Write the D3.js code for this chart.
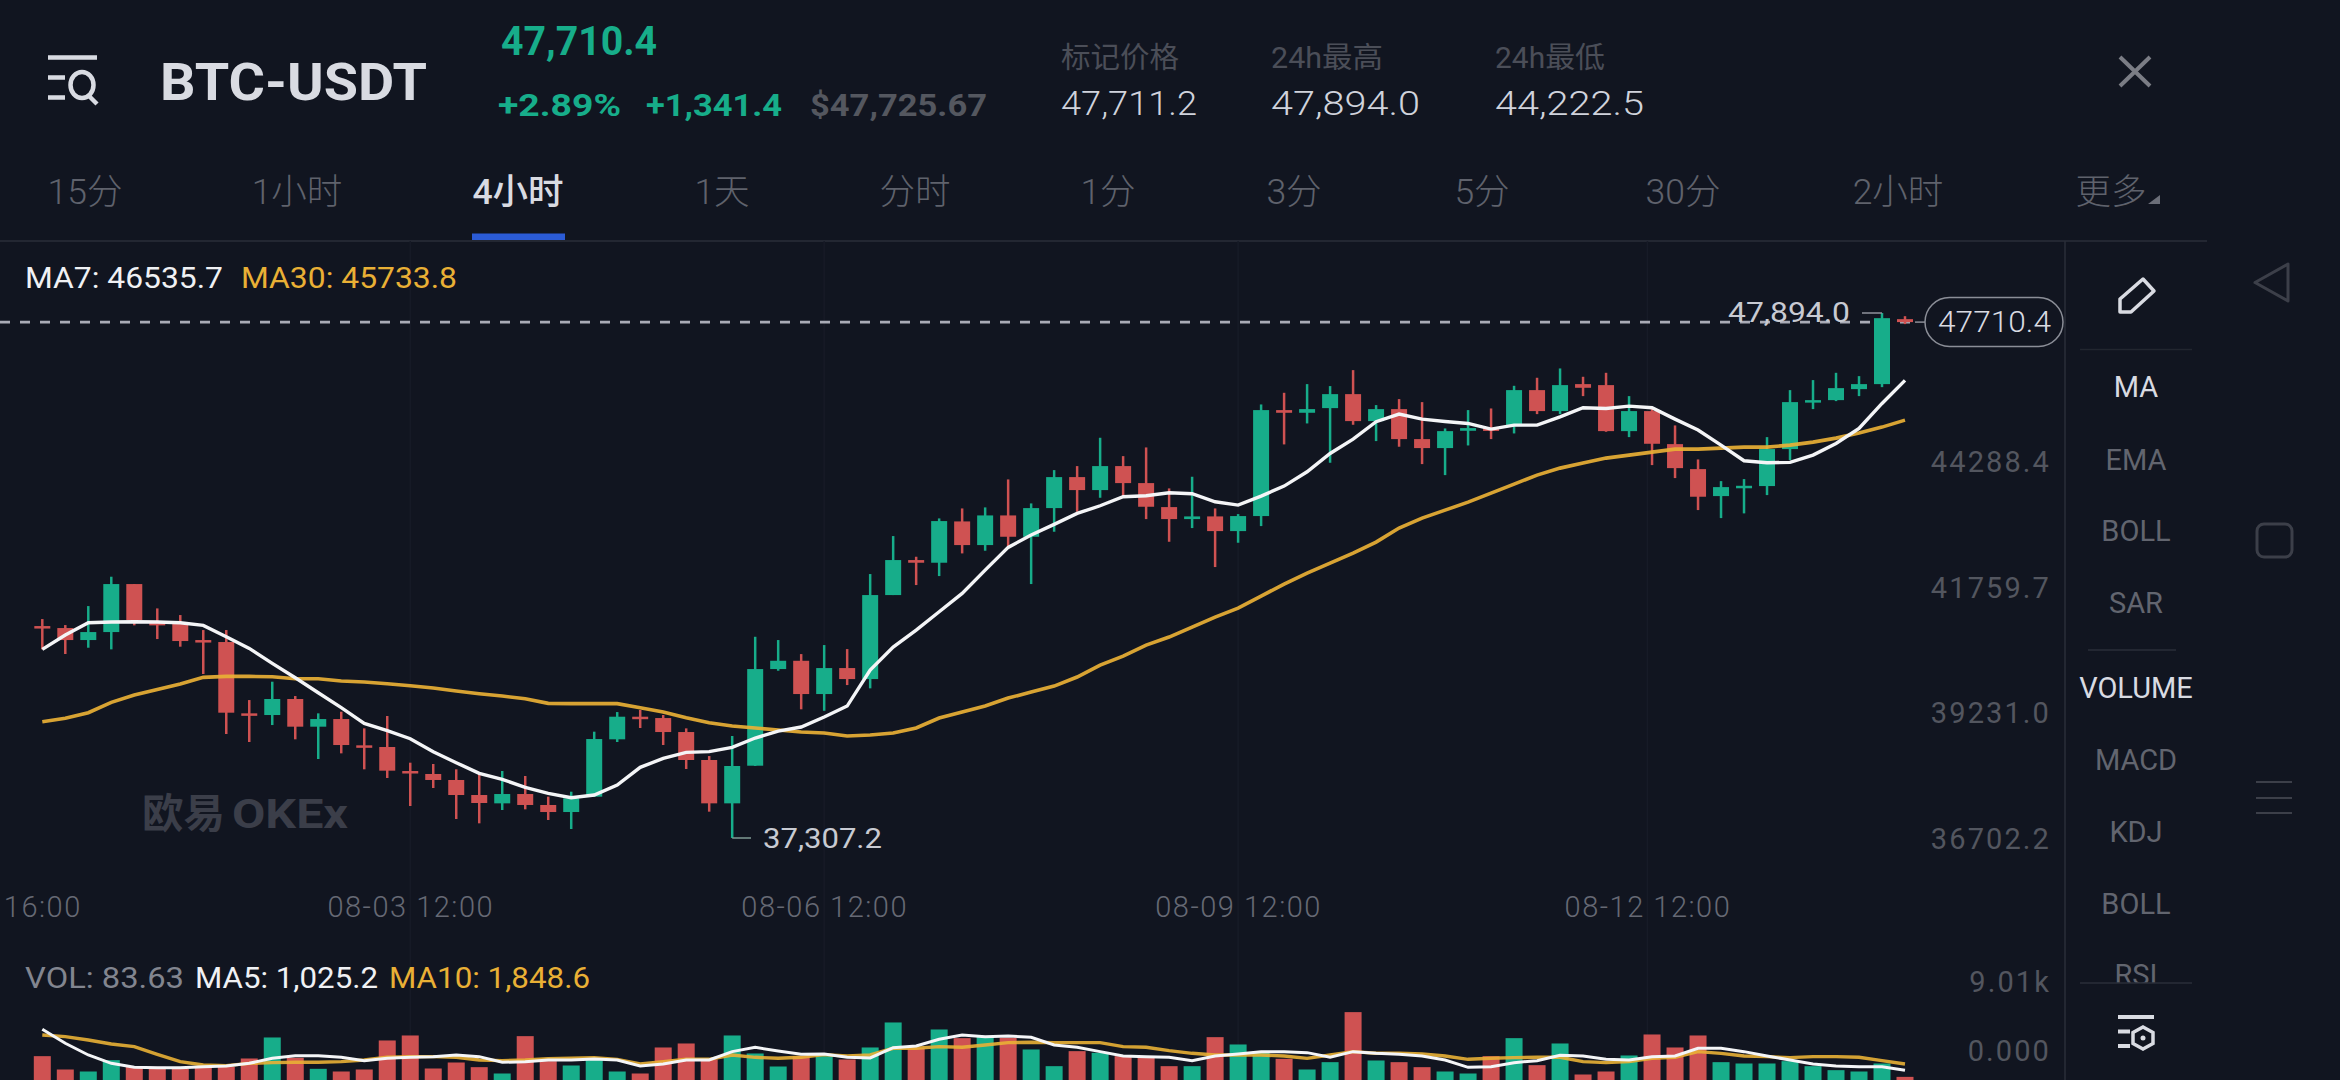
<!DOCTYPE html>
<html>
<head>
<meta charset="utf-8">
<style>
  html, body { margin: 0; padding: 0; background: #111520; overflow: hidden; }
  svg { display: block; }
  text { font-family: Roboto, "Noto Sans CJK SC", sans-serif; }
</style>
</head>
<body>
<svg id="chart" width="2340" height="1080"></svg>
<script src="https://d3js.org/d3.v7.min.js"></script>
<script>
'use strict';

var opens = [41581,41541,41299,41460,42428,41655,41635,41299,41259,39821,39787,40110,39552,39706,39176,39142,38658,38598,38477,38174,38006,38194,37973,37831,38141,39297,39753,39726,39444,38880,38006,38765,40714,40881,40210,40734,40512,42206,42912,42858,43691,43214,43812,43382,43960,44585,44323,44807,44464,43980,43738,43792,43496,43799,45936,45882,45976,46258,45714,45956,45351,45170,45519,45566,45613,46339,45916,46460,46440,45512,45916,45250,44746,44202,44383,44404,45150,46097,46137,46359,46460,47770];
var highs = [41722,41601,41984,42576,42428,41937,41803,41501,41501,40089,40459,40170,39821,39854,39518,39767,38826,38799,38692,38611,38658,38557,38141,38241,39451,39847,39888,39787,39518,38960,39364,41365,41299,41016,41198,41117,42630,43396,42979,43752,43953,43974,44538,44054,44726,44807,45378,45008,45183,44357,44592,43953,43839,46050,46285,46460,46420,46742,46037,46158,46097,45566,45936,45969,46426,46588,46776,46608,46688,46218,45969,45627,44941,44504,44545,45391,46339,46541,46688,46621,47894,47830];
var lows = [41111,41017,41144,41111,41595,41319,41165,40614,39404,39243,39585,39297,38900,39014,38692,38517,37952,38315,37690,37603,37872,37885,37670,37489,38141,39243,39525,39182,38698,37838,37307.2,38760,40680,39902,39873,40391,40325,42206,42408,42589,43046,43100,43194,42428,43483,43886,44168,44189,43738,43281,43557,42771,43261,43597,45244,45667,44874,45640,45311,45197,44847,44625,45223,45351,45465,45855,45855,46218,45499,45391,44827,44565,43920,43758,43853,44222,44928,45956,46117,46218,46399,47670];
var closes = [41554,41299,41460,42428,41702,41595,41279,41265,39834,39794,40110,39552,39706,39182,39142,38665,38611,38477,38174,38013,38194,37973,37831,38107,39303,39753,39726,39444,38880,38006,38759,40714,40881,40210,40734,40512,42206,42912,42858,43698,43214,43812,43382,43960,44585,44323,44807,44464,43987,43738,43792,43496,43799,45936,45882,45956,46258,45714,45956,45351,45170,45512,45573,45546,46339,45916,46440,46386,45512,45916,45257,44766,44189,44383,44410,45150,46097,46137,46379,46460,47790,47710.4];
var ma7 = [41111,41400,41649,41662,41669,41662,41649,41595,41366,41131,40829,40540,40237,39935,39619,39471,39310,39048,38826,38611,38490,38329,38208,38120,38174,38376,38732,38913,39034,39048,39135,39323,39464,39545,39746,39968,40694,41158,41500,41870,42240,42710,43167,43416,43631,43853,44007,44189,44209,44269,44249,44088,44021,44202,44404,44693,45062,45351,45701,45855,45754,45707,45667,45553,45633,45633,45801,45983,45969,46016,45983,45754,45533,45230,44914,44874,44881,45029,45264,45566,46070,46535.7];
var ma30 = [39653,39720,39834,40042,40190,40304,40412,40546,40566,40566,40560,40519,40519,40472,40452,40419,40378,40331,40271,40217,40170,40116,40022,40016,40016,40016,39935,39847,39733,39632,39565,39525,39484,39444,39424,39363,39383,39424,39525,39726,39847,39968,40129,40250,40371,40553,40795,40976,41198,41359,41561,41762,41944,42186,42428,42649,42851,43053,43274,43557,43758,43919,44081,44262,44444,44625,44766,44867,44968,45028,45089,45149,45149,45169,45190,45190,45230,45290,45371,45472,45593,45733.8];
var volumes = [2816,1056,792,2288,1408,1408,1144,1408,1408,2508,5280,2596,1144,792,1056,4884,5544,1188,1980,1364,528,5456,2156,1584,2376,792,528,3960,4488,2376,5544,3168,1452,2816,2816,2376,3960,7260,3916,6336,5192,5456,5236,3696,1496,3476,3256,2816,2596,1496,1496,5324,4356,3476,2464,1056,2024,8624,2244,2024,1364,792,528,2816,5192,1628,4488,396,792,2904,5676,3960,5544,2024,1848,1848,2156,1496,968,792,1848,83.63];
var volMa5 = [6424,4576,3036,1936,1408,1364,1364,1496,1584,1936,2596,2948,2948,2728,2288,2596,2728,2816,3036,2816,2068,2156,2376,2376,2508,2376,1584,1848,2376,2376,3476,4048,3564,3124,3168,2728,2640,4004,4224,5104,5676,5456,5544,5368,4356,4048,3476,2904,2816,2728,2288,2904,3168,3476,3476,3344,2728,3476,3256,3124,2904,2376,1408,1496,2024,2288,2992,2904,2464,2376,2816,2904,3916,3916,3476,2904,2376,1848,1584,1496,1496,1025.2];
var volMa10 = [5676,5456,5016,4488,4136,3124,2156,1716,1628,1936,2024,2068,2068,2156,2376,2728,2816,2816,2728,2376,2288,2376,2552,2596,2684,2464,1848,2156,2464,2464,3036,2728,2596,2728,3080,2904,3036,3916,3916,4136,4048,4356,4664,4708,4664,4664,4664,4136,4048,3608,3256,3036,3036,3036,2904,2596,3036,3476,3256,3256,3168,2904,2464,2596,2684,2728,2728,2156,2024,2156,2596,2728,3476,3256,2904,2816,2684,2816,2816,2728,2288,1848.6];

var priceTicks = [44288.4, 41759.7, 39231.0, 36702.2];
var volTicks = [9010, 0];
var timeTickIdx = [0, 16, 34, 52, 69.8];
var timeTickLabels = ['16:00', '08-03 12:00', '08-06 12:00', '08-09 12:00', '08-12 12:00'];
var tabs = ['15分', '1小时', '4小时', '1天', '分时', '1分', '3分', '5分', '30分', '2小时', '更多'];
var tabCenters = [85, 297, 518, 722, 915, 1108, 1294, 1482, 1683, 1898, 2111];
var mainIndicators = ['MA', 'EMA', 'BOLL', 'SAR'];
var subIndicators = ['VOLUME', 'MACD', 'KDJ', 'BOLL', 'RSI'];

var UP = '#17ad8a', DOWN = '#cf5252', YEL = '#e9b035', BRIGHT = '#d9dbe2', DIM = '#53565f', LINE = '#2a2e39';

var svg = d3.select('#chart');

var x = d3.scaleLinear().domain([0, 81]).range([42.3, 1905]);
var yP = d3.scaleLinear().domain([37307.2, 47894]).range([838, 313]);
var yV = d3.scaleLinear().domain([0, 9010]).range([1078, 1009.7]);

function label(s, px, py, size, fill, opts) {
  opts = opts || {};
  var t = svg.append('text').attr('x', px).attr('y', py)
    .attr('font-size', size).attr('fill', fill).text(s);
  if (opts.weight) t.attr('font-weight', opts.weight);
  if (opts.anchor) t.attr('text-anchor', opts.anchor);
  if (opts.len) t.attr('textLength', opts.len).attr('lengthAdjust', 'spacingAndGlyphs');
  return t;
}

// header
svg.append('rect').attr('width', 2340).attr('height', 1080).attr('fill', '#111520');

var menu = svg.append('g').attr('stroke', BRIGHT).attr('fill', 'none').attr('stroke-width', 4.5);
menu.append('path').attr('d', 'M48 57.5H97M48 77.5H65M48 97.5H65');
menu.append('ellipse').attr('cx', 82).attr('cy', 85).attr('rx', 11.5).attr('ry', 13);
menu.append('path').attr('d', 'M89 96L97 104');

label('BTC-USDT', 160, 100, 52, BRIGHT, {weight: 700, len: 267});
label('47,710.4', 501, 55, 40, UP, {weight: 700, len: 156});
label('+2.89%', 498, 116, 32, UP, {weight: 700, len: 123});
label('+1,341.4', 646, 116, 32, UP, {weight: 700, len: 136});
label('$47,725.67', 810, 116, 32, '#54575f', {weight: 700, len: 177});

label('标记价格', 1061, 68, 29, '#4b4e58', {len: 118});
label('47,711.2', 1061, 115, 33, '#d0d3dc', {weight: 300, len: 136});
label('24h最高', 1271, 68, 29, '#4b4e58', {len: 112});
label('47,894.0', 1271, 115, 33, '#d0d3dc', {weight: 300, len: 149});
label('24h最低', 1495, 68, 29, '#4b4e58', {len: 110});
label('44,222.5', 1495, 115, 33, '#d0d3dc', {weight: 300, len: 149});

svg.append('path').attr('d', 'M2120 57L2150 86M2150 57L2120 86')
  .attr('stroke', '#7b7d85').attr('stroke-width', 4).attr('fill', 'none');

// interval tabs
svg.append('g').selectAll('text').data(tabs).join('text')
  .attr('x', function (d, i) { return tabCenters[i]; })
  .attr('y', 204).attr('text-anchor', 'middle').attr('font-size', 35.5)
  .attr('font-weight', function (d, i) { return i === 2 ? 500 : 300; })
  .attr('fill', function (d, i) { return i === 2 ? BRIGHT : '#5f626c'; })
  .text(function (d) { return d; });
svg.append('path').attr('d', 'M2160 195V204H2148Z').attr('fill', '#6b6e78');
svg.append('rect').attr('x', 472).attr('y', 233.5).attr('width', 93).attr('height', 6.5).attr('fill', '#2b5bd6');
svg.append('line').attr('x1', 0).attr('x2', 2207).attr('y1', 241).attr('y2', 241).attr('stroke', LINE).attr('stroke-width', 1.5);
svg.append('line').attr('x1', 2065).attr('x2', 2065).attr('y1', 241).attr('y2', 1080).attr('stroke', LINE).attr('stroke-width', 1.5);

// faint time grid
svg.append('g').selectAll('line').data(timeTickIdx.slice(1)).join('line')
  .attr('x1', x).attr('x2', x).attr('y1', 241).attr('y2', 1080)
  .attr('stroke', '#171b27').attr('stroke-width', 1.5);

// watermark
label('欧易', 142, 828, 41, '#3b3e49', {weight: 700, len: 83});
label('OKEx', 232, 828, 41, '#3b3e49', {weight: 700, len: 116});

// last price dashed line
svg.append('line').attr('x1', 0).attr('x2', 1920)
  .attr('y1', yP(closes[81])).attr('y2', yP(closes[81]))
  .attr('stroke', '#a9abb6').attr('stroke-width', 2.6).attr('stroke-dasharray', '10 10');

// candles
var idx = d3.range(opens.length);
function candleColor(i) { return closes[i] >= opens[i] ? UP : DOWN; }

svg.append('g').selectAll('line').data(idx).join('line')
  .attr('x1', x).attr('x2', x)
  .attr('y1', function (i) { return yP(highs[i]); })
  .attr('y2', function (i) { return yP(lows[i]); })
  .attr('stroke', candleColor).attr('stroke-width', 2.5);

svg.append('g').selectAll('rect').data(idx).join('rect')
  .attr('x', function (i) { return x(i) - 8; })
  .attr('width', 16)
  .attr('y', function (i) { return yP(Math.max(opens[i], closes[i])); })
  .attr('height', function (i) { return Math.max(2.5, Math.abs(yP(opens[i]) - yP(closes[i]))); })
  .attr('fill', candleColor);

var priceLine = d3.line().x(function (d, i) { return x(i); }).y(function (d) { return yP(d); });
svg.append('path').datum(ma30).attr('d', priceLine).attr('fill', 'none')
  .attr('stroke', YEL).attr('stroke-width', 3.6).attr('opacity', 0.92);
svg.append('path').datum(ma7).attr('d', priceLine).attr('fill', 'none')
  .attr('stroke', '#f4f5f7').attr('stroke-width', 3.4);

// high / low callouts
svg.append('path').attr('d', 'M1862 ' + yP(47894) + 'H' + x(80)).attr('stroke', '#8f929b').attr('stroke-width', 1.5).attr('fill', 'none');
label('47,894.0', 1728, 322, 28, '#c8cad2', {len: 122});
svg.append('path').attr('d', 'M' + x(30) + ' ' + yP(37307.2) + 'H751').attr('stroke', '#7f9a93').attr('stroke-width', 1.5).attr('fill', 'none');
label('37,307.2', 763, 848, 28, '#c8cad2', {len: 119});

// price axis, labels sit 30px above their level
var priceAxis = svg.append('g').attr('transform', 'translate(2051,0)')
  .call(d3.axisRight(yP).tickValues(priceTicks).tickSize(0).tickFormat(d3.format('.1f')));
priceAxis.select('.domain').remove();
priceAxis.selectAll('text').attr('x', 0).attr('dy', -20).attr('text-anchor', 'end')
  .attr('font-size', 29).attr('fill', DIM).attr('font-family', 'Roboto').style('letter-spacing', '2.1px');

// time axis
var timeAxis = svg.append('g').attr('transform', 'translate(0,890)')
  .call(d3.axisBottom(x).tickValues(timeTickIdx).tickSize(0)
    .tickFormat(function (d, i) { return timeTickLabels[i]; }));
timeAxis.select('.domain').remove();
timeAxis.selectAll('text').attr('y', 27).attr('dy', 0).attr('font-size', 29).attr('font-weight', 300)
  .attr('fill', '#666974').attr('font-family', 'Roboto').style('letter-spacing', '1.5px');

// legends
label('MA7: 46535.7', 25, 288, 29, '#f0f1f4', {len: 198});
label('MA30: 45733.8', 241, 288, 29, YEL, {len: 216});
label('VOL: 83.63', 25, 988, 29, '#82858f', {len: 159});
label('MA5: 1,025.2', 195, 988, 29, '#f0f1f4', {len: 183});
label('MA10: 1,848.6', 389, 988, 29, YEL, {len: 201});

// current price pill
svg.append('rect').attr('x', 1925).attr('y', 297.5).attr('width', 138).attr('height', 49).attr('rx', 24.5)
  .attr('fill', '#111520').attr('stroke', '#8b8e97').attr('stroke-width', 1.5);
svg.append('line').attr('x1', 1915).attr('x2', 1925).attr('y1', yP(closes[81])).attr('y2', yP(closes[81]))
  .attr('stroke', '#8b8e97').attr('stroke-width', 1.5);
label('47710.4', 1938, 332, 30, BRIGHT, {weight: 300, len: 113});

// volume pane
svg.append('g').selectAll('rect').data(idx).join('rect')
  .attr('x', function (i) { return x(i) - 8.5; })
  .attr('width', 17)
  .attr('y', function (i) { return yV(volumes[i]) - 0.5; })
  .attr('height', function (i) { return yV(0) - yV(volumes[i]) + 2.5; })
  .attr('fill', candleColor);

var volLine = d3.line().x(function (d, i) { return x(i); }).y(function (d) { return yV(d); });
svg.append('path').datum(volMa10).attr('d', volLine).attr('fill', 'none')
  .attr('stroke', YEL).attr('stroke-width', 3.4).attr('opacity', 0.9);
svg.append('path').datum(volMa5).attr('d', volLine).attr('fill', 'none')
  .attr('stroke', '#f4f5f7').attr('stroke-width', 3);

var volAxis = svg.append('g').attr('transform', 'translate(2051,0)')
  .call(d3.axisRight(yV).tickValues(volTicks).tickSize(0)
    .tickFormat(function (d) { return d ? (d / 1000).toFixed(2) + 'k' : '0.000'; }));
volAxis.select('.domain').remove();
volAxis.selectAll('text').attr('x', 0).attr('dy', -18).attr('text-anchor', 'end')
  .attr('font-size', 29).attr('fill', DIM).attr('font-family', 'Roboto').style('letter-spacing', '2.1px');

// side panel
svg.append('path').attr('d', 'M2120 312V299L2143 279L2154 291L2131 312Z')
  .attr('fill', 'none').attr('stroke', BRIGHT).attr('stroke-width', 3.5).attr('stroke-linejoin', 'round');
svg.append('line').attr('x1', 2080).attr('x2', 2192).attr('y1', 349.5).attr('y2', 349.5).attr('stroke', '#22262f').attr('stroke-width', 1.5);

var mainYs = [397, 470, 541, 613];
svg.append('g').selectAll('text').data(mainIndicators).join('text')
  .attr('x', 2136).attr('y', function (d, i) { return mainYs[i]; })
  .attr('text-anchor', 'middle').attr('font-size', 29)
  .attr('fill', function (d, i) { return i === 0 ? BRIGHT : '#62656f'; })
  .text(function (d) { return d; });
svg.append('line').attr('x1', 2088).attr('x2', 2176).attr('y1', 650).attr('y2', 650).attr('stroke', '#2a2e39').attr('stroke-width', 1.5);

svg.append('clipPath').attr('id', 'panelClip').append('rect').attr('x', 2066).attr('y', 650).attr('width', 150).attr('height', 333);
var subYs = [698, 770, 842, 914, 985];
svg.append('g').attr('clip-path', 'url(#panelClip)').selectAll('text').data(subIndicators).join('text')
  .attr('x', 2136).attr('y', function (d, i) { return subYs[i]; })
  .attr('text-anchor', 'middle').attr('font-size', 29)
  .attr('fill', function (d, i) { return i === 0 ? BRIGHT : '#62656f'; })
  .text(function (d) { return d; });
svg.append('line').attr('x1', 2080).attr('x2', 2192).attr('y1', 983).attr('y2', 983).attr('stroke', '#2a2e39').attr('stroke-width', 1.5);

var gear = svg.append('g').attr('stroke', BRIGHT).attr('fill', 'none').attr('stroke-width', 4);
gear.append('path').attr('d', 'M2118 1017H2154M2118 1031.5H2130M2118 1046H2130');
gear.append('path').attr('d', 'M2143 1027L2153 1032.5V1043.5L2143 1049L2133 1043.5V1032.5Z').attr('stroke-width', 3.5);
gear.append('circle').attr('cx', 2143).attr('cy', 1038).attr('r', 2.5).attr('fill', BRIGHT).attr('stroke', 'none');

// android nav bar
var nav = svg.append('g').attr('stroke', '#3c3f49').attr('fill', 'none').attr('stroke-width', 3);
nav.append('path').attr('d', 'M2288 264V301L2255 282.5Z').attr('stroke-linejoin', 'round');
nav.append('rect').attr('x', 2257).attr('y', 524).attr('width', 35).attr('height', 33).attr('rx', 7);
nav.append('path').attr('d', 'M2256 782H2292M2256 798H2292M2256 813H2292').attr('stroke-width', 2);
</script>
</body>
</html>
